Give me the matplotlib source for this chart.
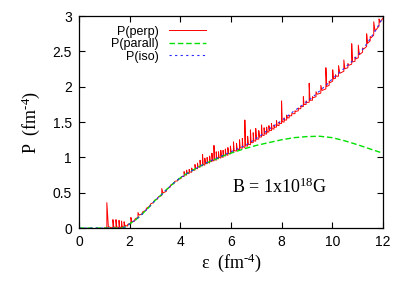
import matplotlib
matplotlib.use("Agg")
import matplotlib.pyplot as plt
from matplotlib.ticker import FormatStrFormatter

serif = "Liberation Serif"
plt.rcParams["mathtext.fontset"] = "custom"
plt.rcParams["mathtext.rm"] = serif
plt.rcParams["mathtext.it"] = serif + ":italic"

# P(iso)
iso_x = [0.0, 1.7, 1.85, 2.0, 2.25, 2.5, 2.75, 3.0, 3.25, 3.5, 3.75, 4.0, 4.25,
         4.5, 4.75, 5.0, 5.25, 5.5, 5.75, 6.0, 6.25, 6.5, 6.75, 7.0, 7.25, 7.5,
         7.75, 8.0, 8.25, 8.5, 8.75, 9.0, 9.25, 9.5, 9.75, 10.0, 10.25, 10.5,
         10.75, 11.0, 11.25, 11.5, 11.75, 12.0]
iso_y = [0.0, 0.0, 0.02, 0.06, 0.12, 0.2, 0.29, 0.39, 0.47, 0.56, 0.64, 0.71, 0.77,
         0.82, 0.87, 0.92, 0.96, 1.0, 1.04, 1.08, 1.12, 1.16, 1.21, 1.27, 1.33, 1.40,
         1.46, 1.52, 1.59, 1.66, 1.72, 1.79, 1.86, 1.94, 2.02, 2.11, 2.19, 2.27,
         2.35, 2.44, 2.55, 2.68, 2.82, 2.98]

# P(parall)
par_x = [0.0, 1.7, 1.85, 2.0, 2.25, 2.5, 2.75, 3.0, 3.25, 3.5, 3.75, 4.0, 4.25,
         4.5, 4.75, 5.0, 5.25, 5.5, 5.75, 6.0, 6.5, 7.0, 7.5, 8.0, 8.5, 9.0, 9.5,
         10.0, 10.5, 11.0, 11.5, 12.0]
par_y = [0.0, 0.0, 0.02, 0.06, 0.12, 0.2, 0.29, 0.39, 0.47, 0.56, 0.64, 0.71, 0.77,
         0.82, 0.87, 0.915, 0.955, 0.99, 1.03, 1.06, 1.12, 1.17, 1.21, 1.25, 1.28,
         1.295, 1.30, 1.28, 1.235, 1.18, 1.12, 1.06]

# P(perp): spike positions, value just before each jump, value at the top
spike_x = [1.10, 1.34, 1.46, 1.58, 1.68, 1.78, 1.92, 2.05, 2.20, 2.33, 2.50, 2.65,
           2.80, 2.95, 3.10, 3.27, 3.45, 3.60, 3.75, 3.90, 4.03, 4.15, 4.25, 4.35,
           4.45, 4.58, 4.68, 4.78, 4.88, 4.97, 5.06, 5.16, 5.25, 5.33, 5.42, 5.51,
           5.60, 5.69, 5.78, 5.88, 5.98, 6.10, 6.22, 6.34, 6.45, 6.55, 6.66, 6.77,
           6.88, 6.98, 7.10, 7.21, 7.31, 7.41, 7.50, 7.60, 7.70, 7.80, 7.90, 8.00,
           8.10, 8.20, 8.30, 8.40, 8.53, 8.66, 8.76, 8.86, 8.97, 9.09, 9.22, 9.36,
           9.55, 9.75, 9.88, 10.02, 10.13, 10.25, 10.46, 10.62, 10.77, 10.90, 11.03,
           11.20, 11.36, 11.50, 11.64, 11.85]
spike_lo = [0.0, 0.0, 0.0, 0.0, 0.0, 0.01, 0.03, 0.06, 0.10, 0.15, 0.20, 0.25,
            0.31, 0.36, 0.41, 0.46, 0.52, 0.58, 0.63, 0.67, 0.70, 0.73, 0.75, 0.77,
            0.79, 0.82, 0.84, 0.86, 0.88, 0.89, 0.91, 0.92, 0.94, 0.95, 0.96, 0.98,
            0.99, 1.00, 1.02, 1.03, 1.05, 1.07, 1.09, 1.11, 1.13, 1.14, 1.16, 1.18,
            1.21, 1.23, 1.26, 1.29, 1.31, 1.33, 1.36, 1.38, 1.40, 1.43, 1.45, 1.48,
            1.50, 1.53, 1.56, 1.59, 1.62, 1.66, 1.69, 1.72, 1.75, 1.78, 1.81, 1.86,
            1.91, 1.97, 2.02, 2.08, 2.12, 2.15, 2.22, 2.27, 2.32, 2.36, 2.41,
            2.49, 2.57, 2.65, 2.73, 2.86]
spike_hi = [0.36, 0.12, 0.12, 0.11, 0.10, 0.09, 0.05, 0.15, 0.12, 0.22, 0.22, 0.27,
            0.32, 0.37, 0.42, 0.56, 0.53, 0.59, 0.64, 0.68, 0.72, 0.80, 0.82, 0.83,
            0.85, 0.90, 0.92, 0.96, 1.04, 0.99, 1.00, 1.02, 1.06, 1.17, 1.08, 1.08,
            1.10, 1.10, 1.12, 1.14, 1.16, 1.22, 1.20, 1.25, 1.27, 1.53, 1.30, 1.39,
            1.35, 1.41, 1.38, 1.46, 1.42, 1.43, 1.45, 1.48, 1.46, 1.52, 1.50, 1.80,
            1.56, 1.60, 1.60, 1.62, 1.66, 1.70, 1.73, 1.86, 1.80, 2.05, 1.86, 1.93,
            2.02, 2.27, 2.08, 2.24, 2.17, 2.30, 2.38, 2.33, 2.61, 2.42, 2.59,
            2.55, 2.75, 2.71, 2.92, 2.96]
perp_end = (12.0, 2.97)


def perp_path():
    xs, ys = [1.0], [0.0]
    n = len(spike_x)
    for i in range(n):
        x0, lo, hi = spike_x[i], spike_lo[i], spike_hi[i]
        if i + 1 < n:
            x1, lo1 = spike_x[i + 1], spike_lo[i + 1]
        else:
            x1, lo1 = perp_end
        gap = x1 - x0
        xs += [x0, x0, x0 + 0.25 * gap]
        ys += [lo, hi, lo + 0.3 * (lo1 - lo) + 0.02]
    xs.append(perp_end[0])
    ys.append(perp_end[1])
    return xs, ys


fig = plt.figure(figsize=(4.03, 2.83), dpi=100)
ax = fig.add_axes([0.196, 0.194, 0.754, 0.749])

px, py = perp_path()
ax.plot(px, py, color="#ff0000", lw=0.7, label="P(perp)")
ax.plot(par_x, par_y, color="#00e000", lw=1.0, dashes=(4, 2), label="P(parall)")
ax.plot(iso_x, iso_y, color="#2a2aff", lw=0.8, dashes=(2, 3), label="P(iso)")

ax.set_xlim(0, 12)
ax.set_ylim(0, 3)
ax.set_xticks(range(0, 13, 2))
ax.set_yticks([0, 0.5, 1, 1.5, 2, 2.5, 3])
ax.yaxis.set_major_formatter(FormatStrFormatter("%g"))
ax.tick_params(direction="in", length=4, width=0.8, top=True, right=True,
               labelsize=10, pad=5)
for lab in ax.get_xticklabels() + ax.get_yticklabels():
    lab.set_family("Liberation Sans")
for s in ax.spines.values():
    s.set_linewidth(0.9)

ax.set_xlabel(r"$\mathrm{\varepsilon\ \ (fm^{\text{-}4})}$", family=serif,
              fontsize=13, labelpad=2)
ax.set_ylabel(r"$\mathrm{P\ \ (fm^{\text{-}4})}$", family=serif,
              fontsize=13, labelpad=8)

ax.text(7.93, 0.58, r"B = 1x10$^{\rm 18}$G", family=serif, fontsize=13,
        ha="center", va="center")

leg = ax.legend(loc="upper left", bbox_to_anchor=(0.085, 0.985), frameon=False,
                markerfirst=False, handlelength=3.0, handletextpad=0.8,
                labelspacing=0.05, borderpad=0,
                prop={"family": "Liberation Sans", "size": 9})

fig.savefig("out.png", dpi=100)
